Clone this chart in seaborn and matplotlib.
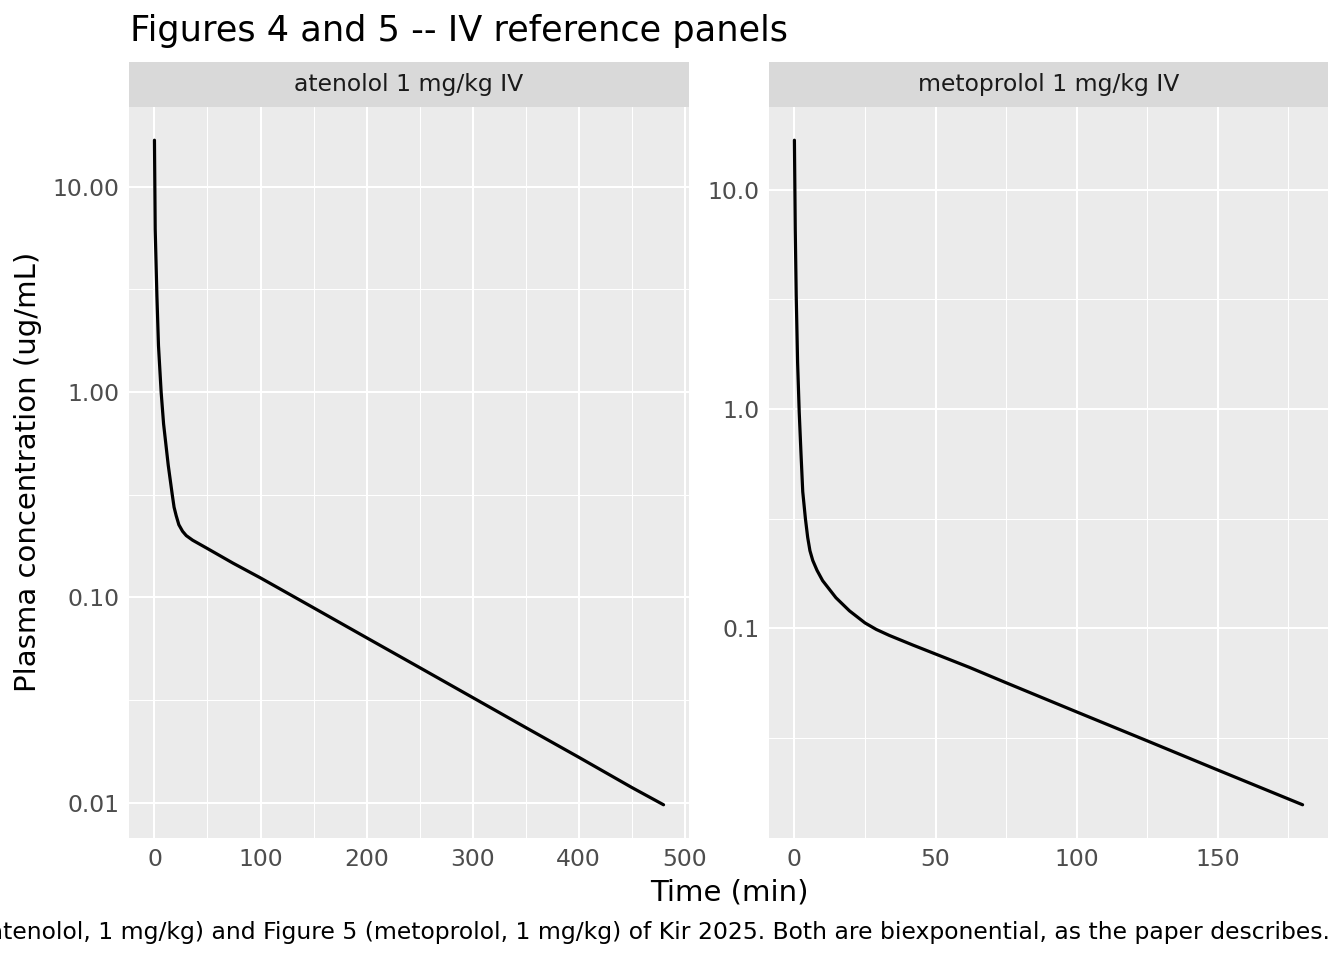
import matplotlib
matplotlib.use("Agg")
import matplotlib.pyplot as plt
import numpy as np
import pandas as pd
import seaborn as sns
from matplotlib.ticker import FixedLocator, FixedFormatter, NullFormatter

# values (time in min, conc in ug/mL)
aten_time = [0, 0.7, 2.3, 3.8, 6.3, 8.6, 13, 16.8, 18.5, 20.5, 23, 26.5, 30,
             36, 50, 74, 100, 150, 200, 250, 300, 350, 400, 450, 480]
aten_conc = [16.8, 6.2, 2.95, 1.68, 1.0, 0.70, 0.44, 0.316, 0.275, 0.25,
             0.226, 0.21, 0.2, 0.19, 0.173, 0.147, 0.1245, 0.0891, 0.0637,
             0.0456, 0.0326, 0.0233, 0.0167, 0.0119, 0.0098]

meto_time = [0, 0.3, 0.64, 1.13, 1.7, 2.3, 2.95, 3.9, 4.7, 5.5, 6.5, 8, 10,
             14.7, 19.5, 25, 29, 33.6, 42, 50, 62, 75, 100, 125, 150, 180]
meto_conc = [16.8, 6.6, 3.3, 1.63, 0.97, 0.64, 0.42, 0.316, 0.26, 0.226,
             0.204, 0.184, 0.165, 0.138, 0.1202, 0.1059, 0.0989, 0.0929,
             0.0839, 0.0764, 0.0664, 0.0565, 0.0416, 0.0307, 0.0226, 0.0157]

panel_titles = ["atenolol 1 mg/kg IV", "metoprolol 1 mg/kg IV"]

aten_xbreaks = [0, 100, 200, 300, 400, 500]
aten_xminor = [50, 150, 250, 350, 450]
aten_ybreaks = [0.01, 0.1, 1, 10]
aten_ylabels = ["0.01", "0.10", "1.00", "10.00"]

meto_xbreaks = [0, 50, 100, 150]
meto_xminor = [25, 75, 125, 175]
meto_ybreaks = [0.1, 1, 10]
meto_ylabels = ["0.1", "1.0", "10.0"]

title = "Figures 4 and 5 -- IV reference panels"
caption = ("Reference curves for Figure 4 (atenolol, 1 mg/kg) and Figure 5 "
           "(metoprolol, 1 mg/kg) of Kir 2025. Both are biexponential, as the paper describes.")

sns.set_style("darkgrid")
plt.rcParams['font.family'] = ['DejaVu Sans']

W, H = 1344, 960
fig = plt.figure(figsize=(W / 100, H / 100), dpi=100)

SMALL = 16.9
MID = 21
BIG = 25.3


def px_axes(x0, y0, x1, y1):
    return fig.add_axes([x0 / W, 1 - y1 / H, (x1 - x0) / W, (y1 - y0) / H])


def log_minor(breaks):
    lb = np.log10(breaks)
    mids = list(lb[:-1] + np.diff(lb) / 2)
    mids = [lb[0] - 0.5] + mids + [lb[-1] + 0.5]
    return [10 ** m for m in mids]


def draw_panel(x0, x1, df, xbreaks, xminor, ybreaks, ylabels, strip):
    ax = px_axes(x0, 107, x1, 838)
    ax.set_facecolor("#EBEBEB")
    sns.lineplot(data=df, x="time", y="conc", ax=ax, color="black",
                 linewidth=2.3, estimator=None, sort=False)
    ax.lines[-1].set_solid_joinstyle("round")
    ax.set_yscale("log")

    t = df["time"]
    span = t.max() - t.min()
    ax.set_xlim(t.min() - 0.05 * span, t.max() + 0.05 * span)
    lc = np.log10(df["conc"])
    lspan = lc.max() - lc.min()
    ax.set_ylim(10 ** (lc.min() - 0.05 * lspan), 10 ** (lc.max() + 0.05 * lspan))

    ax.xaxis.set_major_locator(FixedLocator(xbreaks))
    ax.xaxis.set_minor_locator(FixedLocator(xminor))
    ax.yaxis.set_major_locator(FixedLocator(ybreaks))
    ax.yaxis.set_major_formatter(FixedFormatter(ylabels))
    ax.yaxis.set_minor_locator(FixedLocator(log_minor(ybreaks)))
    ax.yaxis.set_minor_formatter(NullFormatter())

    ax.grid(which="major", color="white", linewidth=1.5)
    ax.grid(which="minor", color="white", linewidth=0.75)
    ax.set_axisbelow(True)
    for s in ax.spines.values():
        s.set_visible(False)
    ax.tick_params(which="major", length=4, width=1.1, color="#333333",
                   labelcolor="#4D4D4D", labelsize=SMALL, pad=3)
    ax.tick_params(which="minor", length=0)
    ax.set_xlabel("")
    ax.set_ylabel("")

    sax = px_axes(x0, 62, x1, 107)
    sax.set_facecolor("#D9D9D9")
    sax.set_xticks([])
    sax.set_yticks([])
    for s in sax.spines.values():
        s.set_visible(False)
    sax.text(0.5, 0.5, strip, ha="center", va="center", fontsize=SMALL,
             color="#1A1A1A", transform=sax.transAxes)
    return ax


aten_df = pd.DataFrame({"time": aten_time, "conc": aten_conc})
meto_df = pd.DataFrame({"time": meto_time, "conc": meto_conc})

draw_panel(129, 689, aten_df, aten_xbreaks, aten_xminor, aten_ybreaks,
           aten_ylabels, panel_titles[0])
draw_panel(769, 1328, meto_df, meto_xbreaks, meto_xminor, meto_ybreaks,
           meto_ylabels, panel_titles[1])

fig.text(130 / W, 1 - 41 / H, title, ha="left", va="baseline", fontsize=BIG,
         color="black")
fig.text(28 / W, 1 - 472 / H, "Plasma concentration (ug/mL)", rotation=90,
         ha="center", va="center", fontsize=MID, color="black")
fig.text(729 / W, 1 - 892 / H, "Time (min)", ha="center", va="center",
         fontsize=MID, color="black")
# caption is right-aligned and runs off the left edge, as in the original
fig.text(1330 / W, 1 - 932 / H, caption, ha="right", va="center",
         fontsize=SMALL, color="black")

fig.savefig("out.png", dpi=100)
plt.close(fig)
